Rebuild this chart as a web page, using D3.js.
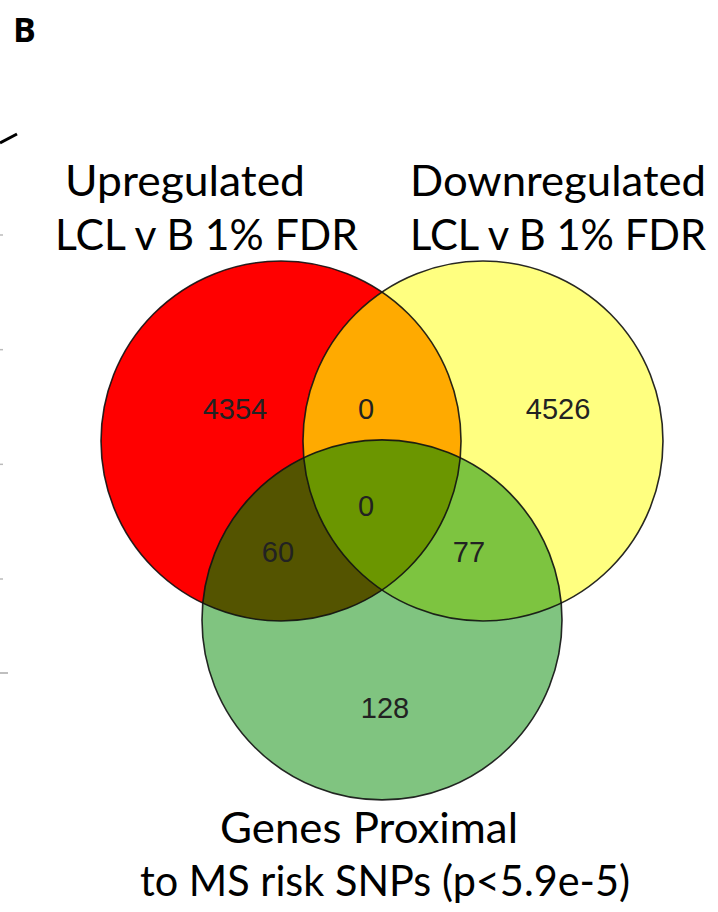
<!DOCTYPE html>
<html><head><meta charset="utf-8">
<script src="https://cdn.jsdelivr.net/npm/d3@7"></script>
<style>html,body{margin:0;padding:0;background:#fff;} svg{display:block;}</style>
</head><body>
<svg id="chart" width="718" height="912"></svg>
<script>
// Three gene sets: up- and down-regulated genes (LCL vs B cells) and genes near MS risk SNPs
const setKeys = ["up", "down", "ms"];
const setTitles = [
  ["Upregulated", "LCL v B 1% FDR"],
  ["Downregulated", "LCL v B 1% FDR"],
  ["Genes Proximal", "to MS risk SNPs (p<5.9e-5)"]
];
// Region counts (membership: which sets each region belongs to)
const regionSets = [["up"], ["up","down"], ["down"], ["up","down","ms"], ["up","ms"], ["down","ms"], ["ms"]];
const regionCounts = [4354, 0, 4526, 0, 60, 77, 128];
const panelLetter = "B";

// ---- layout (unit-radius coordinates) ----
const svg = d3.select("#chart");
const x = d3.scaleLinear().domain([-1, 1]).range([202, 562]);
const y = d3.scaleLinear().domain([-1, 1]).range([261, 621]);
const rPx = x(1) - x(0);
const centers = {up: [-0.561, 0], down: [0.561, 0], ms: [0, 0.994]};
const labelPos = [[-0.817, -0.178], [-0.089, -0.178], [0.978, -0.178], [-0.089, 0.361],
                  [-0.578, 0.617], [0.483, 0.617], [0.017, 1.483]];

const regionFill = {
  "up": "#ff0000", "down": "#ffff80", "ms": "#80c480",
  "up,down": "#ffaa00", "up,ms": "#545400", "down,ms": "#7dc440", "up,down,ms": "#6b9600"
};

const defs = svg.append("defs");
setKeys.forEach(k => {
  defs.append("clipPath").attr("id", "clip-" + k)
    .append("circle").attr("cx", x(centers[k][0])).attr("cy", y(centers[k][1])).attr("r", rPx);
});

// paint base circles, then overlaps on top (clipped)
const g = svg.append("g");
function paint(keys, color) {
  let parent = g;
  for (let i = 1; i < keys.length; i++) {
    parent = parent.append("g").attr("clip-path", `url(#clip-${keys[i]})`);
  }
  const k = keys[0];
  parent.append("circle")
    .attr("cx", x(centers[k][0])).attr("cy", y(centers[k][1])).attr("r", rPx)
    .attr("fill", color);
}
setKeys.forEach(k => paint([k], regionFill[k]));
paint(["up", "down"], regionFill["up,down"]);
paint(["ms", "up"], regionFill["up,ms"]);
paint(["ms", "down"], regionFill["down,ms"]);
paint(["ms", "up", "down"], regionFill["up,down,ms"]);

// outlines
g.selectAll("circle.outline").data(setKeys).join("circle")
  .attr("class", "outline")
  .attr("cx", k => x(centers[k][0])).attr("cy", k => y(centers[k][1])).attr("r", rPx)
  .attr("fill", "none").attr("stroke", "#111").attr("stroke-width", 1.6).attr("stroke-opacity", 0.9);

// region counts
g.selectAll("text.count").data(regionCounts).join("text")
  .attr("class", "count")
  .attr("x", (d, i) => x(labelPos[i][0]))
  .attr("y", (d, i) => y(labelPos[i][1]))
  .attr("text-anchor", "middle").attr("dominant-baseline", "central")
  .attr("font-family", "'Liberation Sans', Arial, sans-serif")
  .attr("font-size", 29).attr("fill", "#222")
  .text(d => d);

// set titles: each line placed by its left edge and fitted to its width
const titleFont = "Lato, 'Open Sans', sans-serif";
const titleLines = [
  [[65, 196, 240], [55, 250, 303]],
  [[410, 196, 296], [410, 250, 296]],
  [[220, 843, 298], [140, 896, 490]]
];
setTitles.forEach((lines, i) => {
  lines.forEach((ln, j) => {
    const [lx, ly, lw] = titleLines[i][j];
    svg.append("text")
      .attr("x", lx).attr("y", ly)
      .attr("font-family", titleFont).attr("font-size", 43).attr("fill", "#000")
      .attr("textLength", lw).attr("lengthAdjust", "spacingAndGlyphs")
      .text(ln);
  });
});

// panel letter
svg.append("text").attr("x", 13).attr("y", 42)
  .attr("font-family", "'Open Sans', Lato, sans-serif").attr("font-weight", 700)
  .attr("font-size", 34).attr("fill", "#000").text(panelLetter);

// edge of the neighbouring panel
svg.append("path").attr("d", "M0,143 L17,134").attr("stroke", "#000").attr("stroke-width", 3).attr("fill", "none");
const tickY = d3.scaleLinear().domain([0, 3]).range([235, 579]);
svg.selectAll("line.tick").data(d3.range(4)).join("line")
  .attr("class", "tick").attr("x1", 0).attr("x2", 3)
  .attr("y1", d => tickY(d)).attr("y2", d => tickY(d))
  .attr("stroke", "#bbb").attr("stroke-width", 1.5);
svg.append("line").attr("x1", 0).attr("x2", 8).attr("y1", 673).attr("y2", 673)
  .attr("stroke", "#aaa").attr("stroke-width", 1.5);
</script>
</body></html>
